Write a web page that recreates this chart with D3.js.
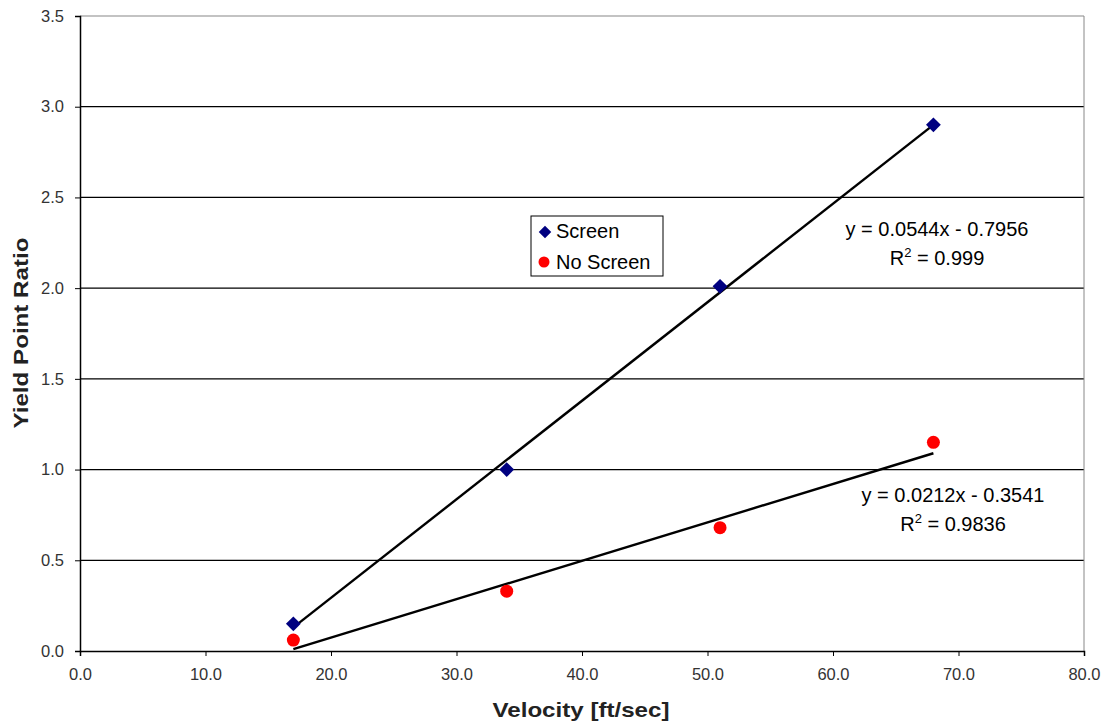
<!DOCTYPE html>
<html>
<head>
<meta charset="utf-8">
<script src="https://cdn.jsdelivr.net/npm/d3@7"></script>
<style>
  body { margin: 0; background: #fff; }
  svg { font-family: "Liberation Sans", Arial, sans-serif; }
</style>
</head>
<body>
<div id="chart"></div>
<script>
var width = 1107,
    height = 726;

var margin = { top: 16, right: 23, bottom: 75, left: 80 },
    plotWidth = width - margin.left - margin.right,
    plotHeight = height - margin.top - margin.bottom;

// data
var velocity = [17, 34, 51, 68];
var screenRatio = [0.15, 1.00, 2.01, 2.90];
var noScreenRatio = [0.06, 0.33, 0.68, 1.15];
var screenTrend = [[17, 0.13], [68, 2.90]];
var noScreenTrend = [[17, 0.01], [68, 1.09]];
var xTicks = [0, 10, 20, 30, 40, 50, 60, 70, 80];
var yTicks = [0, 0.5, 1.0, 1.5, 2.0, 2.5, 3.0, 3.5];
var screenLabel = ["y = 0.0544x - 0.7956", "0.999"];
var noScreenLabel = ["y = 0.0212x - 0.3541", "0.9836"];

var svg = d3.select("#chart").append("svg")
    .attr("width", width)
    .attr("height", height);

var g = svg.append("g").attr("transform", "translate(" + margin.left + "," + margin.top + ")");

var x = d3.scaleLinear().domain([0, 80]).range([0, plotWidth]);
var y = d3.scaleLinear().domain([0, 3.5]).range([plotHeight, 0]);

// gridlines
g.append("g").selectAll("line")
    .data(yTicks.filter(function(d) { return d > 0; }))
  .enter().append("line")
    .attr("x1", 0)
    .attr("x2", plotWidth)
    .attr("y1", function(d) { return y(d); })
    .attr("y2", function(d) { return y(d); })
    .attr("stroke", function(d) { return d === 3.5 ? "#888" : "#000"; })
    .attr("stroke-width", 1.2);

// right border
g.append("line")
    .attr("x1", plotWidth).attr("x2", plotWidth)
    .attr("y1", 0).attr("y2", plotHeight)
    .attr("stroke", "#888");

var xAxis = g.append("g")
    .attr("transform", "translate(0," + plotHeight + ")")
    .call(d3.axisBottom(x).tickValues(xTicks).tickSize(5).tickPadding(12)
      .tickFormat(d3.format(".1f")));

var yAxis = g.append("g")
    .call(d3.axisLeft(y).tickValues(yTicks).tickSize(5).tickPadding(11)
      .tickFormat(d3.format(".1f")));

[xAxis, yAxis].forEach(function(a) {
  a.select(".domain").attr("stroke", "#000").attr("stroke-width", 1.5);
  a.selectAll(".tick line").attr("stroke", "#000");
  a.selectAll(".tick text")
      .attr("fill", "#333")
      .style("font-size", "16.5px")
      .style("font-family", "Liberation Sans, Arial, sans-serif");
});

// trend lines
var line = d3.line()
    .x(function(d) { return x(d[0]); })
    .y(function(d) { return y(d[1]); });

[screenTrend, noScreenTrend].forEach(function(t) {
  g.append("path")
      .datum(t)
      .attr("fill", "none")
      .attr("stroke", "#000")
      .attr("stroke-width", 2.4)
      .attr("d", line);
});

// points
var diamond = d3.symbol().type(d3.symbolDiamond2).size(140);

g.append("g").selectAll("path")
    .data(velocity)
  .enter().append("path")
    .attr("d", diamond)
    .attr("transform", function(d, i) { return "translate(" + x(d) + "," + y(screenRatio[i]) + ")"; })
    .attr("fill", "#000080");

g.append("g").selectAll("circle")
    .data(velocity)
  .enter().append("circle")
    .attr("cx", function(d) { return x(d); })
    .attr("cy", function(d, i) { return y(noScreenRatio[i]); })
    .attr("r", 6.5)
    .attr("fill", "#ff0000");

// equation labels
function equation(lines, cx, by) {
  var t = svg.append("g").attr("font-size", "20px").attr("fill", "#000").attr("text-anchor", "middle");
  t.append("text").attr("x", cx).attr("y", by).text(lines[0]);
  var r = t.append("text").attr("x", cx).attr("y", by + 29);
  r.append("tspan").text("R");
  r.append("tspan").attr("font-size", "13px").attr("dy", -8).text("2");
  r.append("tspan").attr("dy", 8).text(" = " + lines[1]);
}
equation(screenLabel, 937, 236);
equation(noScreenLabel, 953, 502);

// legend
var legend = svg.append("g").attr("transform", "translate(531,216)");
legend.append("rect")
    .attr("width", 132).attr("height", 60)
    .attr("fill", "#fff").attr("stroke", "#000");
legend.append("path")
    .attr("d", diamond.size(100))
    .attr("transform", "translate(14,16)")
    .attr("fill", "#000080");
legend.append("circle")
    .attr("cx", 13).attr("cy", 46).attr("r", 5.5)
    .attr("fill", "#ff0000");
legend.append("text").attr("x", 25).attr("y", 22).attr("font-size", "20px").text("Screen");
legend.append("text").attr("x", 25).attr("y", 53).attr("font-size", "20px").text("No Screen");

// axis titles
svg.append("text")
    .attr("x", 581)
    .attr("y", 717)
    .attr("text-anchor", "middle")
    .attr("font-size", "21px")
    .attr("font-weight", "bold")
    .attr("fill", "#222")
    .attr("textLength", 177)
    .attr("lengthAdjust", "spacingAndGlyphs")
    .text("Velocity [ft/sec]");

svg.append("text")
    .attr("transform", "translate(28,333) rotate(-90)")
    .attr("text-anchor", "middle")
    .attr("font-size", "21px")
    .attr("font-weight", "bold")
    .attr("fill", "#222")
    .attr("textLength", 191)
    .attr("lengthAdjust", "spacingAndGlyphs")
    .text("Yield Point Ratio");
</script>
</body>
</html>
